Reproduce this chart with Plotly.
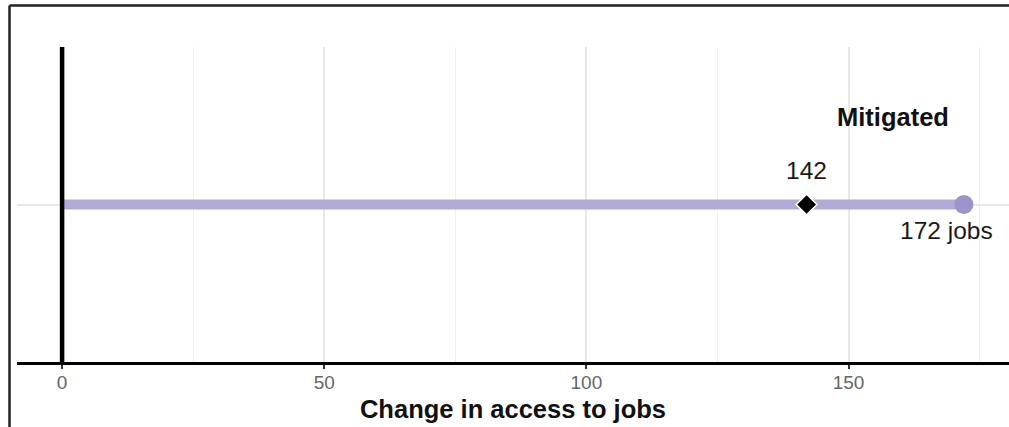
import plotly.graph_objects as go

# ---- data ----
categories = ["Mitigated"]
start_values = [0]
end_values = [172]
marker_values = [142]
tick_values = [0, 50, 100, 150]
tick_labels = ["0", "50", "100", "150"]
x_title = "Change in access to jobs"

FONT = "Liberation Sans, Arial, sans-serif"
W, H = 1009, 427
L, R, T, B = 17, 0, 47, 65
plot_h = H - T - B

fig = go.Figure()

for i, cat in enumerate(categories):
    y = i + 1
    # segment
    fig.add_trace(go.Scatter(
        x=[start_values[i], end_values[i]], y=[y, y], mode="lines",
        line=dict(color="#b2aad6", width=10), hoverinfo="skip", showlegend=False))
    # end point
    fig.add_trace(go.Scatter(
        x=[end_values[i]], y=[y], mode="markers",
        marker=dict(color="#9d94c8", size=19, line=dict(width=0)),
        showlegend=False))
    # diamond marker
    fig.add_trace(go.Scatter(
        x=[marker_values[i]], y=[y], mode="markers",
        marker=dict(symbol="diamond", color="black", size=16,
                    line=dict(color="white", width=1.5)),
        showlegend=False))
    fig.add_annotation(x=marker_values[i], y=y, xref="x", yref="y",
                       text=str(marker_values[i]), showarrow=False,
                       yshift=34, font=dict(family=FONT, size=24.5, color="#1a1a1a"))
    fig.add_annotation(x=end_values[i], y=y, xref="x", yref="y",
                       text=f"{end_values[i]} jobs", showarrow=False,
                       xshift=-17, yshift=-26,
                       font=dict(family=FONT, size=24.5, color="#1a1a1a",
                                 shadow="0 0 3px white"))
    fig.add_annotation(x=158.4, y=y, xref="x", yref="y",
                       text=f"<b>{cat}</b>", showarrow=False, yshift=88,
                       font=dict(family=FONT, size=25.5, color="#111"))

# zero reference line
fig.add_shape(type="line", xref="x", yref="paper", x0=0, x1=0, y0=0, y1=1,
              line=dict(color="black", width=4.5), layer="above")

# outer frame (left and top)
top_y = 1 + (T - 5.5) / plot_h
bot_y = -(B + 5) / plot_h
left_x = (9.5 - L) / (W - L - R)
fig.add_shape(type="line", xref="paper", yref="paper", x0=left_x, x1=1.05,
              y0=top_y, y1=top_y, line=dict(color="#222", width=2.5))
fig.add_shape(type="line", xref="paper", yref="paper", x0=left_x, x1=left_x,
              y0=bot_y, y1=top_y, line=dict(color="#222", width=2.5))

fig.update_layout(
    width=W, height=H,
    margin=dict(l=L, r=R, t=T, b=B),
    paper_bgcolor="white", plot_bgcolor="white",
    showlegend=False,
    font=dict(family=FONT),
    xaxis=dict(
        range=[-8.6, 180.6],
        tickvals=tick_values, ticktext=tick_labels,
        tickfont=dict(family=FONT, size=19, color="#666"),
        ticks="outside", ticklen=4, tickwidth=2, tickcolor="#333",
        ticklabelstandoff=-3,
        showline=True, linecolor="black", linewidth=3,
        showgrid=True, gridcolor="#e8e8e8", gridwidth=1.5,
        minor=dict(tickvals=[25, 75, 125, 175], showgrid=True,
                   gridcolor="#f0f0f0", gridwidth=1, ticks=""),
        zeroline=False,
        title=dict(text=f"<b>{x_title}</b>", standoff=9,
                   font=dict(family=FONT, size=25.5, color="#111")),
    ),
    yaxis=dict(
        range=[0, 2], tickvals=[1], showticklabels=False,
        showgrid=True, gridcolor="#e8e8e8", gridwidth=1.5,
        zeroline=False, showline=False, ticks="",
    ),
)

fig.write_html("out.html", config={"displayModeBar": False},
               post_script="document.body.style.margin='0';document.body.style.overflow='hidden';")
